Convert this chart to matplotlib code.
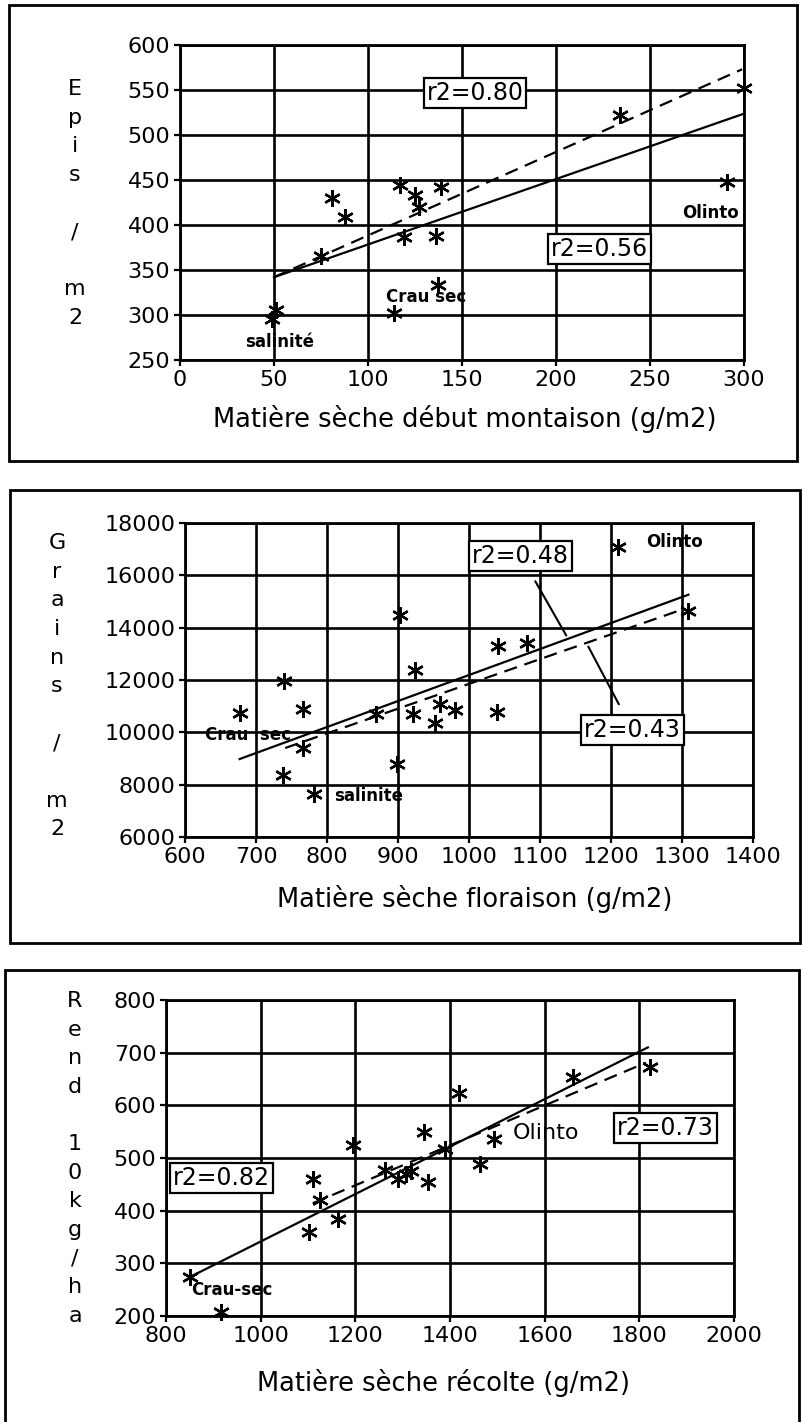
import matplotlib
matplotlib.use("Agg")
import matplotlib.pyplot as plt
from matplotlib.patches import Rectangle
import numpy as np

W, H = 803, 1422

# --- panel 1 : épis / m2 vs matière sèche début montaison
ms_montaison = [49, 51, 75, 81, 88, 114, 117, 119, 125, 127, 136, 137, 139, 234, 291, 300]
epis_m2 = [296, 306, 366, 430, 409, 302, 444, 387, 433, 420, 388, 333, 442, 522, 448, 552]
fit1_x = [50, 299]
fit1_solid = [342, 523]
fit1_dash = [342, 573]

# --- panel 2 : grains / m2 vs matière sèche floraison
ms_floraison = [677, 739, 766, 766, 738, 782, 903, 924, 869, 921, 959, 952, 980, 898,
                1041, 1082, 1039, 1210, 1309]
grains_m2 = [10750, 11950, 10900, 9400, 8380, 7650, 14500, 12370, 10700, 10700, 11100,
             10350, 10870, 8800, 13300, 13400, 10770, 17100, 14650]
fit2_solid_x = [677, 1309]
fit2_solid_y = [8980, 15260]
fit2_dash_x = [741, 1302]
fit2_dash_y = [9400, 14710]

# --- panel 3 : rendement vs matière sèche récolte
ms_recolte = [850, 917, 1103, 1110, 1125, 1163, 1196, 1262, 1290, 1308, 1318, 1346, 1353,
              1390, 1419, 1463, 1494, 1660, 1822]
rend = [274, 207, 360, 461, 421, 385, 524, 477, 461, 470, 476, 550, 455,
        518, 624, 489, 537, 654, 672]
fit3_solid_x = [857, 1818]
fit3_solid_y = [277, 710]
fit3_dash_x = [1110, 1814]
fit3_dash_y = [414, 681]


def fx(px):
    return px / W


def fy(py):
    return 1 - py / H


def axes_px(fig, x0, x1, y0, y1):
    return fig.add_axes([fx(x0), fy(y1), (x1 - x0) / W, (y1 - y0) / H])


def style(ax, xlim, ylim, xt, yt):
    ax.set_xlim(*xlim)
    ax.set_ylim(*ylim)
    ax.set_xticks(xt)
    ax.set_yticks(yt)
    ax.grid(True, color="black", lw=1.9)
    ax.set_axisbelow(True)
    for s in ax.spines.values():
        s.set_linewidth(2)
    ax.tick_params(direction="out", length=4, width=1.6, labelsize=16, pad=3)


def points(ax, x, y):
    ax.plot(x, y, ls="none", marker=(6, 2, 0), ms=12, mew=1.7, color="black",
            zorder=5, clip_on=False)


box = dict(boxstyle="square,pad=0.12", fc="white", ec="black", lw=1.6)
dash = (0, (6, 3.5))

fig = plt.figure(figsize=(W / 100, H / 100), dpi=100)

# outer frames
for x0, y0, x1, y1 in [(9, 5, 797, 461), (10, 490, 800, 943), (5, 970, 799, 1440)]:
    fig.add_artist(Rectangle((fx(x0), fy(y1)), (x1 - x0) / W, (y1 - y0) / H,
                             transform=fig.transFigure, fill=False, ec="black", lw=2))

# panel 1
ax1 = axes_px(fig, 180, 744, 45, 360)
style(ax1, (0, 300), (250, 600), range(0, 301, 50), range(250, 601, 50))
ax1.plot(fit1_x, fit1_solid, color="black", lw=1.6)
ax1.plot(fit1_x, fit1_dash, color="black", lw=1.6, ls=dash)
points(ax1, ms_montaison, epis_m2)
ax1.text(157, 547, "r2=0.80", fontsize=17, ha="center", va="center", bbox=box, zorder=6)
ax1.text(223, 373, "r2=0.56", fontsize=17, ha="center", va="center", bbox=box, zorder=6)
ax1.text(282, 413, "Olinto", fontsize=12, fontweight="bold", ha="center", va="center")
ax1.text(131, 320, "Crau sec", fontsize=12, fontweight="bold", ha="center", va="center")
ax1.text(53, 270, "salinité", fontsize=12, fontweight="bold", ha="center", va="center")
fig.text(fx(75), fy(79), "E\np\ni\ns\n\n/\n\nm\n2", fontsize=16, ha="center", va="top",
         linespacing=1.54)
fig.text(fx(465), fy(419), "Matière sèche début montaison (g/m2)", fontsize=18.5,
         ha="center", va="center")

# panel 2
ax2 = axes_px(fig, 185, 753, 523, 837)
style(ax2, (600, 1400), (6000, 18000), range(600, 1401, 100), range(6000, 18001, 2000))
ax2.plot(fit2_solid_x, fit2_solid_y, color="black", lw=1.6)
ax2.plot(fit2_dash_x, fit2_dash_y, color="black", lw=1.6, ls=dash)
points(ax2, ms_floraison, grains_m2)
ax2.annotate("r2=0.48", xy=(1137, 13700), xytext=(1073, 16740), fontsize=17,
             ha="center", va="center", bbox=box, zorder=6,
             arrowprops=dict(arrowstyle="-", color="black", lw=1.5, shrinkA=8, shrinkB=0))
ax2.annotate("r2=0.43", xy=(1168, 13280), xytext=(1230, 10100), fontsize=17,
             ha="center", va="center", bbox=box, zorder=6,
             arrowprops=dict(arrowstyle="-", color="black", lw=1.5, shrinkA=8, shrinkB=0))
ax2.text(1290, 17260, "Olinto", fontsize=12, fontweight="bold", ha="center", va="center")
ax2.text(689, 9900, "Crau  sec", fontsize=12, fontweight="bold", ha="center", va="center")
ax2.text(858, 7580, "salinité", fontsize=12, fontweight="bold", ha="center", va="center")
fig.text(fx(57), fy(533), "G\nr\na\ni\nn\ns\n\n/\n\nm\n2", fontsize=16, ha="center",
         va="top", linespacing=1.54)
fig.text(fx(475), fy(899), "Matière sèche floraison (g/m2)", fontsize=18.5,
         ha="center", va="center")

# panel 3
ax3 = axes_px(fig, 166, 734, 1000, 1316)
style(ax3, (800, 2000), (200, 800), range(800, 2001, 200), range(200, 801, 100))
ax3.plot(fit3_solid_x, fit3_solid_y, color="black", lw=1.6)
ax3.plot(fit3_dash_x, fit3_dash_y, color="black", lw=1.6, ls=dash)
points(ax3, ms_recolte, rend)
ax3.text(917, 462, "r2=0.82", fontsize=17, ha="center", va="center", bbox=box, zorder=6)
ax3.text(1855, 557, "r2=0.73", fontsize=17, ha="center", va="center", bbox=box, zorder=6)
ax3.text(1602, 547, "Olinto", fontsize=16, ha="center", va="center")
ax3.text(939, 249, "Crau-sec", fontsize=12, fontweight="bold", ha="center", va="center")
fig.text(fx(75), fy(991), "R\ne\nn\nd\n\n1\n0\nk\ng\n/\nh\na", fontsize=16, ha="center",
         va="top", linespacing=1.54)
fig.text(fx(444), fy(1383), "Matière sèche récolte (g/m2)", fontsize=18.5,
         ha="center", va="center")

fig.savefig("out.png", dpi=100)
